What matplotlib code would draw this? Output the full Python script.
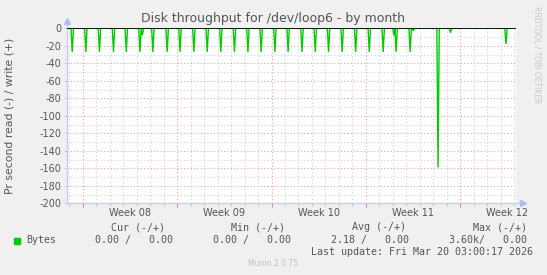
import numpy as np
import matplotlib
matplotlib.use("Agg")
import matplotlib.pyplot as plt
from matplotlib.transforms import blended_transform_factory

# days counted from Mon Feb 16 2026 00:00 (start of week 08)
spike_days = [-0.78, 0.23, 1.24, 2.28, 3.23, 4.24, 4.42, 5.20, 6.26, 7.21, 8.24, 9.23,
              10.24, 11.25, 12.25, 13.23, 14.25, 15.23, 16.26, 17.24, 18.23, 19.24,
              20.24, 21.25, 22.28, 23.08, 23.24, 24.28, 24.51, 26.35, 27.27, 31.39]
spike_read = [27, 27, 27, 27, 27, 27, 8, 27, 27, 27, 27, 27,
              27, 27, 27, 27, 27, 27, 27, 27, 27, 27,
              27, 27, 27, 8, 27, 27, 3, 159, 5, 18]

week_starts = [0, 7, 14, 21, 28]
week_labels = ["Week 08", "Week 09", "Week 10", "Week 11", "Week 12"]
x_start, x_end = -1.19, 32.13

yticks = list(range(0, -201, -20))

bg = "#F0F0F0"
txt = "#555555"
axis_col = "#C8CCF0"
arrow_col = "#B4BCF4"
green = "#00CC00"

fig = plt.figure(figsize=(5.47, 2.75), dpi=100, facecolor=bg)
ax = fig.add_axes([66.7 / 547, 1 - 203.3 / 275, (516 - 66.7) / 547, 175 / 275])
ax.set_facecolor("white")

# green read spikes (drawn negative)
xs, ys = [x_start], [0]
for d, v in zip(spike_days, spike_read):
    xs += [d - 0.09, d, d + 0.09]
    ys += [0, -v, 0]
xs.append(x_end)
ys.append(0)
ax.plot(xs, ys, color=green, lw=1.0, zorder=3, solid_joinstyle="miter")
ax.axhline(0, color="black", lw=1.2, zorder=4)

ax.set_xlim(x_start, x_end)
ax.set_ylim(-200, 0)

# grid: days / weeks, 10 / 20
for d in np.arange(np.ceil(x_start), x_end):
    c = "#E8A0A0" if d in week_starts else "#D0D0D0"
    ax.axvline(d, color=c, lw=0.8, ls=(0, (1, 2)), zorder=1)
for v in range(-190, 0, 10):
    c = "#E8A0A0" if v % 20 == 0 else "#D0D0D0"
    ax.axhline(v, color=c, lw=0.8, ls=(0, (1, 2)), zorder=1)

for s in ["top", "right", "left", "bottom"]:
    ax.spines[s].set_visible(False)

# axis lines with arrows
ax.plot([0, 0], [0, 1.04], transform=ax.transAxes, color=axis_col, lw=1, clip_on=False)
ax.plot([0, 1.016], [0, 0], transform=ax.transAxes, color=axis_col, lw=1, clip_on=False)
ax.plot([0], [1.04], marker="^", ms=4.5, color=arrow_col, transform=ax.transAxes, clip_on=False)
ax.plot([1.016], [0], marker=">", ms=4.5, color=arrow_col, transform=ax.transAxes, clip_on=False)

ax.set_yticks(yticks)
ax.set_yticklabels([str(t) for t in yticks])
ax.tick_params(axis="y", length=2, width=0.8, color=axis_col, labelsize=7, labelcolor=txt, pad=2)
ax.set_xticks(week_starts)
ax.set_xticklabels([])
ax.set_xticks(np.arange(np.ceil(x_start), x_end), minor=True)
ax.tick_params(axis="x", which="major", length=3, width=0.8, color="#E08080")
ax.tick_params(axis="x", which="minor", length=2, width=0.8, color="#C8C8C8")

tr = blended_transform_factory(ax.transData, fig.transFigure)
for w, lab in zip(week_starts, week_labels):
    ax.text(w + 3.5, 1 - 212.5 / 275, lab, transform=tr, ha="center", va="center",
            fontsize=7, color=txt)

fig.text(10 / 547, 1 - 116 / 275, "Pr second read (-) / write (+)", rotation=90,
         ha="center", va="center", fontsize=7.8, color=txt)
fig.text(273 / 547, 1 - 18.5 / 275, "Disk throughput for /dev/loop6 - by month",
         ha="center", va="center", fontsize=9, color=txt)
fig.text(537 / 547, 1 - 55 / 275, "RRDTOOL / TOBI OETIKER", rotation=270,
         ha="center", va="center", fontsize=5.5, color="#C8C8C8")

# legend block
mono = dict(family="DejaVu Sans Mono", fontsize=7.2, color=txt, va="center")
def fx(px):
    return px / 547
def fy(py):
    return 1 - py / 275

fig.patches.append(plt.Rectangle((fx(14), fy(243.5)), 5.5 / 547, 5.5 / 275,
                                 transform=fig.transFigure, color=green))
fig.text(fx(26), fy(240), "Bytes", ha="left", **mono)
headers = ["Cur (-/+)", "Min (-/+)", "Avg (-/+)", "Max (-/+)"]
head_right = [165, 285, 406, 527]
values = ["0.00 /   0.00", "0.00 /   0.00", "2.18 /   0.00", "3.60k/   0.00"]
val_right = [173.4, 291, 409, 527]
for h, hr in zip(headers, head_right):
    fig.text(fx(hr), fy(227.5), h, ha="right", **mono)
for v, vr in zip(values, val_right):
    fig.text(fx(vr), fy(240), v, ha="right", **mono)
fig.text(fx(533), fy(252), "Last update: Fri Mar 20 03:00:17 2026", ha="right", **mono)
fig.text(fx(273), fy(264), "Munin 2.0.75", ha="center", va="center", fontsize=5.5,
         color="#C0C0C0")

fig.savefig("out.png", dpi=100, facecolor=bg)
